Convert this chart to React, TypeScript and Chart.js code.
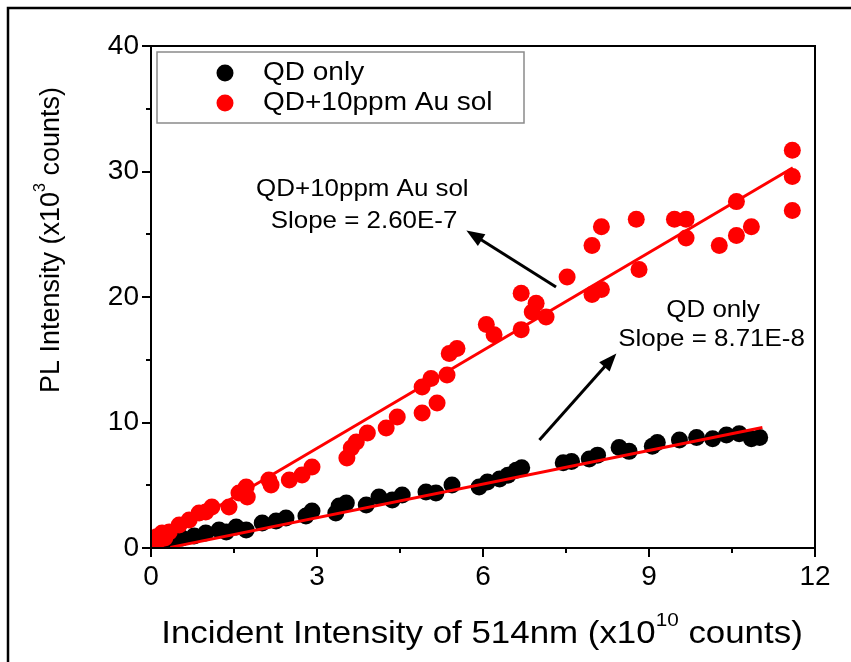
import React, { useEffect, useRef } from "react";
import { Chart, registerables } from "chart.js";
Chart.register(...registerables);

// ---- data (x in 10^10 counts, y in 10^3 counts) ----
const qdOnlyX = [0.05,0.14,0.25,0.38,0.56,0.78,0.99,1.23,1.36,1.54,1.72,2.01,2.26,2.44,2.80,2.91,3.34,3.40,3.53,3.89,4.12,4.36,4.54,4.97,5.15,5.44,5.93,6.08,6.30,6.45,6.60,6.70,7.45,7.60,7.92,8.07,8.46,8.64,9.06,9.15,9.55,9.86,10.15,10.40,10.63,10.85,11.00];
const qdOnlyY = [0.15,0.40,0.50,0.64,0.80,0.96,1.20,1.43,1.27,1.67,1.43,1.99,2.15,2.39,2.55,2.95,2.79,3.35,3.59,3.43,4.06,3.82,4.22,4.46,4.38,5.02,4.86,5.26,5.50,5.80,6.20,6.40,6.80,6.90,7.10,7.40,8.00,7.70,8.10,8.40,8.60,8.80,8.70,9.00,9.10,8.70,8.80];
const qdAuX = [0.03,0.05,0.10,0.14,0.20,0.25,0.33,0.51,0.69,0.87,0.99,1.10,1.41,1.59,1.72,1.74,2.13,2.17,2.50,2.73,2.91,3.54,3.62,3.71,3.91,4.25,4.45,4.90,5.17,4.90,5.06,5.35,5.39,5.53,6.06,6.20,6.69,6.69,6.89,6.96,7.14,7.52,7.97,8.14,7.97,8.14,8.77,8.82,9.46,9.67,9.67,10.27,10.58,10.58,10.85,11.59,11.59,11.59];
const qdAuY = [0.10,0.30,0.90,0.64,1.20,0.80,1.27,1.83,2.23,2.79,2.87,3.27,3.27,4.38,4.86,4.06,5.42,5.02,5.42,5.82,6.45,7.17,7.97,8.45,9.16,9.56,10.44,10.76,11.55,12.83,13.50,13.78,15.50,15.90,17.80,17.00,20.30,17.40,18.80,19.50,18.40,21.60,24.10,25.60,20.20,20.60,26.20,22.20,26.20,26.20,24.70,24.10,27.60,24.90,25.60,31.70,29.60,26.90];
const fitQdX = [0.35, 11.05];
const fitQdY = [0.05, 9.6];
const fitAuX = [0.05, 11.6];
const fitAuY = [0.28, 30.3];

const xMinorTicks = [1.5, 4.5, 7.5, 10.5];
const yMinorTicks = [5, 15, 25, 35];
const legendLabels = ["QD only", "QD+10ppm Au sol"];
const legendColors = ["#000000", "#ff0000"];

// annotations: [text, x, y]
const noteTexts = ["QD+10ppm Au sol", "Slope = 2.60E-7", "QD only", "Slope = 8.71E-8"];
const noteX = [3.82, 3.85, 10.16, 10.13];
const noteY = [28.6, 26.05, 18.95, 16.6];
// arrows: tail -> head
const arrowTailX = [7.32, 7.02];
const arrowTailY = [20.8, 8.6];
const arrowHeadX = [5.70, 8.41];
const arrowHeadY = [25.3, 15.5];

const FONT = "Arial, 'Liberation Sans', sans-serif";

type Part = { t: string; sup?: boolean };

function drawRich(ctx: CanvasRenderingContext2D, parts: Part[], cx: number, cy: number, size: number, stretch: number, rotate = 0) {
  ctx.save();
  ctx.translate(cx, cy);
  if (rotate) ctx.rotate(rotate);
  ctx.scale(stretch, 1);
  ctx.textBaseline = "middle";
  ctx.textAlign = "left";
  ctx.fillStyle = "#000";
  let total = 0;
  const widths: number[] = [];
  for (const p of parts) {
    ctx.font = `${p.sup ? Math.round(size * 0.6) : size}px ${FONT}`;
    const w = ctx.measureText(p.t).width;
    widths.push(w);
    total += w;
  }
  let x = -total / 2;
  parts.forEach((p, i) => {
    ctx.font = `${p.sup ? Math.round(size * 0.6) : size}px ${FONT}`;
    ctx.fillText(p.t, x, p.sup ? -size * 0.42 : 0);
    x += widths[i];
  });
  ctx.restore();
}

const decorPlugin = {
  id: "decor",
  afterDatasetsDraw(chart: any) {
    const { ctx, chartArea: a, scales } = chart;
    const xs = scales.x, ys = scales.y;
    ctx.save();
    // outer figure frame (clipped at right and bottom)
    ctx.strokeStyle = "#000";
    ctx.lineWidth = 2.5;
    ctx.beginPath();
    ctx.moveTo(8, chart.height + 5);
    ctx.lineTo(8, 8);
    ctx.lineTo(chart.width + 5, 8);
    ctx.stroke();
    // plot frame
    ctx.lineWidth = 2;
    ctx.strokeRect(a.left, a.top, a.right - a.left, a.bottom - a.top);
    // minor ticks
    ctx.beginPath();
    xMinorTicks.forEach((v) => {
      const px = Math.round(xs.getPixelForValue(v));
      ctx.moveTo(px, a.bottom);
      ctx.lineTo(px, a.bottom + 5);
    });
    yMinorTicks.forEach((v) => {
      const py = Math.round(ys.getPixelForValue(v));
      ctx.moveTo(a.left - 5, py);
      ctx.lineTo(a.left, py);
    });
    ctx.stroke();

    // legend
    const lx = a.left + 6, ly = a.top + 6, lw = 367, lh = 71;
    ctx.fillStyle = "#fff";
    ctx.fillRect(lx, ly, lw, lh);
    ctx.strokeStyle = "#8a8a8a";
    ctx.lineWidth = 1.5;
    ctx.strokeRect(lx, ly, lw, lh);
    legendLabels.forEach((lab, i) => {
      const cy = ly + 21 + i * 30;
      ctx.fillStyle = legendColors[i];
      ctx.beginPath();
      ctx.arc(lx + 68, cy, 8.5, 0, Math.PI * 2);
      ctx.fill();
      ctx.save();
      ctx.translate(lx + 106, cy);
      ctx.scale(1.12, 1);
      ctx.fillStyle = "#000";
      ctx.font = `25px ${FONT}`;
      ctx.textBaseline = "middle";
      ctx.textAlign = "left";
      ctx.fillText(lab, 0, 0);
      ctx.restore();
    });

    // annotation texts
    noteTexts.forEach((t, i) => {
      drawRich(ctx, [{ t }], xs.getPixelForValue(noteX[i]), ys.getPixelForValue(noteY[i]), 24, 1.08);
    });
    // arrows
    ctx.strokeStyle = "#000";
    ctx.fillStyle = "#000";
    ctx.lineWidth = 3;
    arrowTailX.forEach((_, i) => {
      const x0 = xs.getPixelForValue(arrowTailX[i]);
      const y0 = ys.getPixelForValue(arrowTailY[i]);
      const x1 = xs.getPixelForValue(arrowHeadX[i]);
      const y1 = ys.getPixelForValue(arrowHeadY[i]);
      const ang = Math.atan2(y1 - y0, x1 - x0);
      const hl = 18, hw = 7;
      const bx = x1 - hl * Math.cos(ang), by = y1 - hl * Math.sin(ang);
      ctx.beginPath();
      ctx.moveTo(x0, y0);
      ctx.lineTo(bx + 2 * Math.cos(ang), by + 2 * Math.sin(ang));
      ctx.stroke();
      ctx.beginPath();
      ctx.moveTo(x1, y1);
      ctx.lineTo(bx + hw * Math.sin(ang), by - hw * Math.cos(ang));
      ctx.lineTo(bx - hw * Math.sin(ang), by + hw * Math.cos(ang));
      ctx.closePath();
      ctx.fill();
    });

    // axis titles
    drawRich(
      ctx,
      [{ t: "Incident Intensity of 514nm (x10" }, { t: "10", sup: true }, { t: " counts)" }],
      (a.left + a.right) / 2 - 1,
      a.bottom + 86,
      32,
      1.09
    );
    drawRich(
      ctx,
      [{ t: "PL Intensity (x10" }, { t: "3", sup: true }, { t: " counts)" }],
      52,
      a.top + 194,
      27,
      1.0,
      -Math.PI / 2
    );
    ctx.restore();
  },
};

export default function App() {
  const ref = useRef<HTMLCanvasElement>(null);
  useEffect(() => {
    if (!ref.current) return;
    const pts = (xs: number[], ys: number[]) => xs.map((x, i) => ({ x, y: ys[i] }));
    const chart = new Chart(ref.current, {
      type: "scatter",
      data: {
        datasets: [
          {
            label: "fit QD+Au",
            type: "line",
            data: pts(fitAuX, fitAuY),
            borderColor: "#ff0000",
            borderWidth: 3,
            pointRadius: 0,
            showLine: true,
            order: 0,
          } as any,
          {
            label: "fit QD",
            type: "line",
            data: pts(fitQdX, fitQdY),
            borderColor: "#ff0000",
            borderWidth: 3,
            pointRadius: 0,
            showLine: true,
            order: 0,
          } as any,
          {
            label: legendLabels[1],
            data: pts(qdAuX, qdAuY),
            backgroundColor: legendColors[1],
            borderWidth: 0,
            pointRadius: 8.5,
            order: 1,
          },
          {
            label: legendLabels[0],
            data: pts(qdOnlyX, qdOnlyY),
            backgroundColor: legendColors[0],
            borderWidth: 0,
            pointRadius: 8.5,
            order: 2,
          },
        ],
      },
      options: {
        animation: false,
        responsive: false,
        devicePixelRatio: 1,
        layout: { padding: { top: 46, right: 36, left: 0, bottom: 0 } },
        plugins: { legend: { display: false }, tooltip: { enabled: false } },
        scales: {
          x: {
            type: "linear",
            min: 0,
            max: 12,
            ticks: { stepSize: 3, color: "#000", font: { size: 28, family: FONT }, padding: 3, autoSkip: false, maxRotation: 0 },
            grid: { drawOnChartArea: false, drawTicks: true, tickLength: 9, color: "#000", lineWidth: 2 },
            border: { display: true, color: "#000", width: 2 },
            afterFit: (s: any) => { s.height = 114; },
          },
          y: {
            type: "linear",
            min: 0,
            max: 40,
            ticks: { stepSize: 10, color: "#000", font: { size: 28, family: FONT }, padding: 3, autoSkip: false },
            grid: { drawOnChartArea: false, drawTicks: true, tickLength: 9, color: "#000", lineWidth: 2 },
            border: { display: true, color: "#000", width: 2 },
            afterFit: (s: any) => { s.width = 151; },
          },
        },
      },
      plugins: [decorPlugin],
    });
    return () => chart.destroy();
  }, []);
  return (
    <div style={{ position: "fixed", left: 0, top: 0, width: 851, height: 662, background: "#fff" }}>
      <canvas ref={ref} width={851} height={662} />
    </div>
  );
}
